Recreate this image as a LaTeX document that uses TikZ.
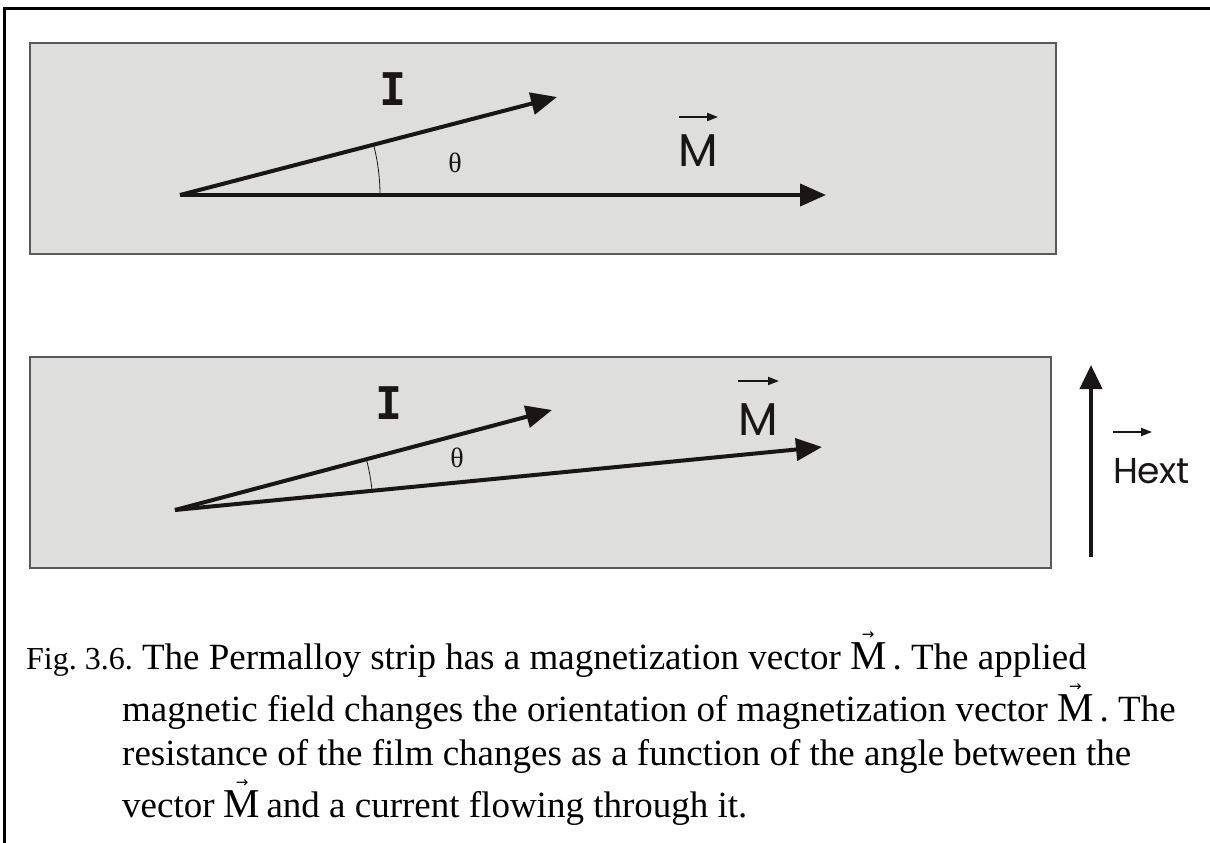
\documentclass[tikz,border=0pt]{standalone}
\usepackage{fontspec}
\setmainfont{Liberation Serif}
\newfontfamily\labfont{Poppins}
\newfontfamily\ifont{DejaVu Sans Mono}
\newfontfamily\arrfont{DejaVu Sans}
\usetikzlibrary{arrows.meta}
\definecolor{stripgray}{HTML}{DEDEDD}
\definecolor{ink}{HTML}{1A1616}
\newcommand{\capM}{{\fontsize{41}{41}\selectfont\ooalign{M\cr\hidewidth\raisebox{30pt}{\arrfont\fontsize{15}{15}\selectfont →}\hidewidth\cr}}}
\frenchspacing
\begin{document}
\begin{tikzpicture}[x=1pt,y=-1pt,
  strip/.style={fill=stripgray,draw=black!65,line width=1.5pt},
  vecarrow/.style={ink,line width=4pt,-{Triangle[length=26pt,width=22pt]}},
  anglearc/.style={ink,line width=0.8pt},
  lab/.style={inner sep=0pt,text=ink},
  ilab/.style={lab,font=\ifont\bfseries\fontsize{45}{45}\selectfont},
  mlab/.style={lab,font=\labfont\fontsize{46}{46}\selectfont},
  thlab/.style={lab,font=\fontsize{28}{28}\selectfont},
  overarrow/.style={ink,line width=2pt,-{Triangle[length=11pt,width=8pt]}},
  captext/.style={anchor=base west,inner sep=0pt,font=\fontsize{37}{44}\selectfont}]
\useasboundingbox (0,0) rectangle (1210,843);
\fill[white] (0,0) rectangle (1210,843);
\draw[line width=3pt] (4,843) -- (4,9) -- (1210,9);
% top strip
\draw[strip] (30,43) rectangle (1056,254);
\coordinate (o1) at (180,195);
\coordinate (i1) at (557,97);
\coordinate (m1) at (826,195);
\draw[vecarrow] (o1) -- (i1);
\draw[vecarrow] (o1) -- (m1);
\draw[anglearc] (o1) ++(200,0) arc[start angle=0,end angle=-14.6,radius=200];
\node[ilab] (I1) at (393,89) {I};
\node[thlab] (t1) at (455,163) {θ};
\node[mlab] (M1) at (698,151) {M};
\coordinate (a1s) at (679,117);
\coordinate (a1e) at (718,117);
\draw[overarrow] (a1s) -- (a1e);
% bottom strip
\draw[strip] (30,357) rectangle (1051,568);
\coordinate (o2) at (175,510);
\coordinate (i2) at (552,410);
\coordinate (m2) at (822,447);
\draw[vecarrow] (o2) -- (i2);
\draw[vecarrow] (o2) -- (m2);
\draw[anglearc] (o2) ++(-5.56:198) arc[start angle=-5.56,end angle=-14.86,radius=198];
\node[ilab] (I2) at (389,403) {I};
\node[thlab] (t2) at (457,458) {θ};
\node[mlab] (M2) at (758,420) {M};
\coordinate (a2s) at (738,381);
\coordinate (a2e) at (779,381);
\draw[overarrow] (a2s) -- (a2e);
% external field
\coordinate (h0) at (1091,557);
\coordinate (h1) at (1091,365);
\draw[ink,line width=4pt,-{Triangle[length=24pt,width=22pt]}] (h0) -- (h1);
\node[lab,anchor=base west,font=\labfont\fontsize{36}{36}\selectfont] (H) at (1113,483) {H\kern-1pt ext};
\coordinate (a3s) at (1113,432);
\coordinate (a3e) at (1152,432);
\draw[overarrow] (a3s) -- (a3e);
% caption
\node[captext] (c1) at (26,669) {{\fontsize{32}{38}\selectfont Fig. 3.6.} The Permalloy strip has a magnetization vector \capM\,. The applied};
\node[captext] (c2) at (122,721) {magnetic field changes the orientation of magnetization vector \capM\,. The};
\node[captext] (c3) at (122,765) {resistance of the film changes as a function of the angle between the};
\node[captext] (c4) at (122,817) {vector \capM\,and a current flowing through it.};
\end{tikzpicture}
\end{document}
